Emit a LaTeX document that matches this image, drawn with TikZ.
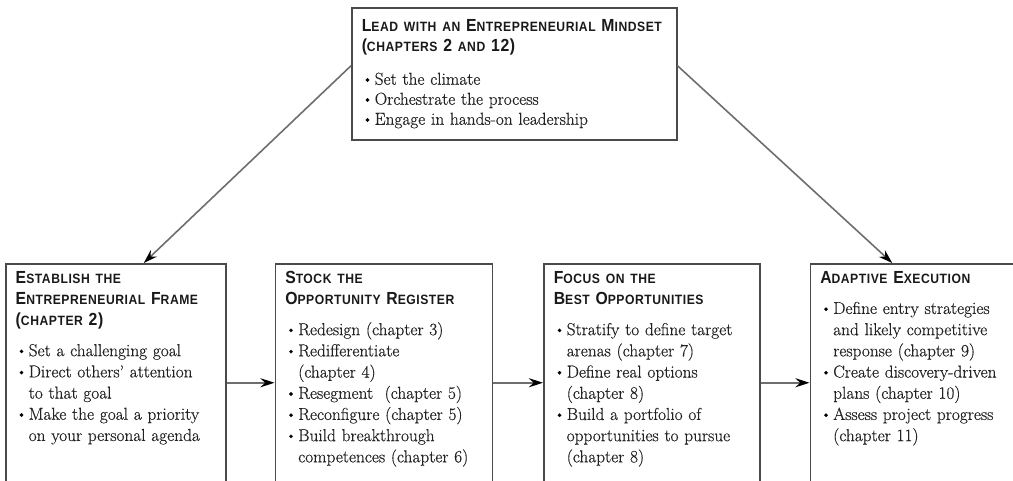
\documentclass[tikz,border=0pt]{standalone}
\usepackage{fontspec}
\usepackage{tikz}
\usetikzlibrary{arrows.meta,positioning,calc}
\newfontfamily\hdfont{Liberation Sans}[FakeStretch=0.9,LetterSpace=4]
\newfontfamily\bodyfont{Latin Modern Roman}[Ligatures=TeX,FakeBold=0.5]
\definecolor{LineGray}{HTML}{4A4A4A}
\definecolor{ArrowGray}{HTML}{6E6E6E}
\definecolor{TextGray}{HTML}{222222}
\newcommand\hd{\hdfont\bfseries\fontsize{13.5}{21}\selectfont\color{black!90}}
\newcommand\bc[1]{{\fontsize{17.5}{21}\selectfont #1}}
\newcommand\bu{\makebox[13pt][l]{\raisebox{0.5pt}{\fontsize{16}{16}\selectfont\color{black}\textbullet}}}
\newcommand\ind{\hspace*{13pt}}
\tikzset{
  panel/.style={rectangle,draw=LineGray,line width=1.5pt,fill=white,
                anchor=north west,align=left,inner xsep=10pt,inner ysep=4pt,
                text height=16pt,text=TextGray,
                font=\bodyfont\fontsize{17.3}{21.2}\selectfont},
  arr/.style={-{Stealth[length=14pt,width=9pt,color=black]},line width=1.6pt,ArrowGray}
}

\begin{document}
\begin{tikzpicture}[x=1pt,y=-1pt]
  \useasboundingbox (0,0) rectangle (1013,480);
  \node[panel,text width=305pt,text height=20pt,text depth=104pt,
        font=\bodyfont\fontsize{17.3}{20}\selectfont] (lead) at (351,7)
    {{\hd\bc{L}EAD WITH AN \bc{E}NTREPRENEURIAL \bc{M}INDSET\\
      \bc{(}CHAPTERS \bc{2} AND \bc{12)}}\\[13pt]
     \bu Set the climate\\
     \bu Orchestrate the process\\
     \bu Engage in hands-on leadership};
  \node[panel,text width=200pt,text depth=214pt] (frame) at (5,263)
    {{\hd\bc{E}STABLISH THE\\
      \bc{E}NTREPRENEURIAL \bc{F}RAME\\
      \bc{(}CHAPTER \bc{2)}}\\[9pt]
     \bu Set a challenging goal\\
     \bu Direct others' attention\\
     \ind to that goal\\
     \bu Make the goal a priority\\
     \ind on your personal agenda};
  \node[panel,text width=197pt,text depth=214pt,right=48pt of frame.north east,anchor=north west] (stock)
    {{\hd\bc{S}TOCK THE\\
      \bc{O}PPORTUNITY \bc{R}EGISTER}\\[9pt]
     \bu Redesign (chapter 3)\\
     \bu Redifferentiate\\
     \ind (chapter 4)\\
     \bu Resegment\ \ (chapter 5)\\
     \bu Reconfigure (chapter 5)\\
     \bu Build breakthrough\\
     \ind competences (chapter 6)};
  \node[panel,text width=196pt,text depth=214pt,right=50pt of stock.north east,anchor=north west] (focus)
    {{\hd\bc{F}OCUS ON THE\\
      \bc{B}EST \bc{O}PPORTUNITIES}\\[9pt]
     \bu Stratify to define target\\
     \ind arenas (chapter 7)\\
     \bu Define real options\\
     \ind (chapter 8)\\
     \bu Build a portfolio of\\
     \ind opportunities to pursue\\
     \ind (chapter 8)};
  \node[panel,text width=190pt,text depth=214pt,right=49pt of focus.north east,anchor=north west] (adapt)
    {{\hd\bc{A}DAPTIVE \bc{E}XECUTION}\\[9pt]
     \bu Define entry strategies\\
     \ind and likely competitive\\
     \ind response (chapter 9)\\
     \bu Create discovery-driven\\
     \ind plans (chapter 10)\\
     \bu Assess project progress\\
     \ind (chapter 11)};

  \draw[arr] ([yshift=8pt]lead.west) -- ([xshift=28pt]frame.north);
  \draw[arr] ([yshift=8pt]lead.east) -- ([xshift=-23pt]adapt.north);
  \draw[arr] (frame) -- (stock);
  \draw[arr] (stock) -- (focus);
  \draw[arr] (focus) -- (adapt);
\end{tikzpicture}
\end{document}
